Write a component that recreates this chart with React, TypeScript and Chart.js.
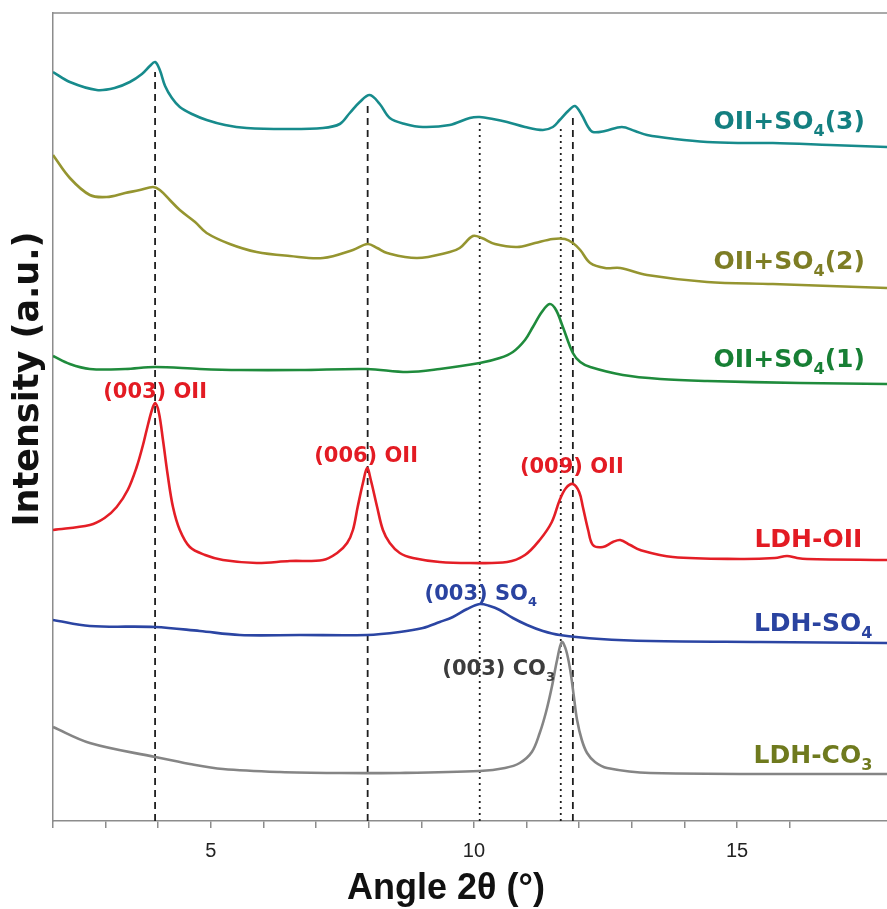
import React, { useEffect, useRef } from 'react';
import { Chart, registerables } from 'chart.js';
Chart.register(...registerables);

type P = [number, number];

// ---- axis ranges ----
const X_MIN = 2;
const X_MAX = 17.85;
const Y_MIN = 0;
const Y_MAX = 808;
const X_LABELLED_TICKS = [5, 10, 15];

// ---- series (2θ, intensity a.u., stacked offsets included) ----
const oiiSo4_3: P[] = [
  [2.0, 749], [2.32, 739], [2.83, 731], [3.17, 733], [3.46, 739], [3.69, 747], [3.84, 755], [3.94, 759],
  [4.03, 751], [4.13, 735], [4.26, 723], [4.41, 714], [4.64, 707], [4.92, 701], [5.27, 696], [5.68, 693],
  [6.41, 692], [7.13, 693], [7.45, 697], [7.64, 708], [7.83, 719], [8.02, 726], [8.21, 717], [8.4, 703],
  [8.69, 697], [9.03, 694], [9.54, 696], [9.92, 703], [10.11, 704], [10.36, 702], [10.63, 699], [10.97, 694],
  [11.31, 691], [11.5, 694], [11.63, 701], [11.79, 710], [11.92, 715], [12.05, 706], [12.17, 694], [12.26, 689],
  [12.49, 690], [12.81, 694], [13.06, 690], [13.29, 686], [13.82, 682], [14.43, 679], [15.06, 678], [15.68, 678],
  [16.77, 676], [17.85, 674],
];
const oiiSo4_2: P[] = [
  [2.0, 666], [2.32, 643], [2.7, 626], [3.02, 624], [3.37, 628], [3.65, 631], [3.9, 634], [4.03, 631],
  [4.22, 621], [4.41, 611], [4.7, 599], [4.92, 588], [5.36, 577], [5.87, 569], [6.5, 565], [7.13, 563],
  [7.7, 571], [7.98, 577], [8.16, 573], [8.35, 568], [8.92, 563], [9.54, 569], [9.73, 573], [9.98, 585],
  [10.15, 583], [10.4, 577], [10.82, 574], [11.16, 578], [11.5, 582], [11.73, 582], [11.88, 578], [12.02, 571],
  [12.21, 558], [12.49, 553], [12.78, 553], [13.29, 546], [14.43, 539], [15.68, 537], [17.85, 533],
];
const oiiSo4_1: P[] = [
  [2.0, 465], [2.32, 457], [2.7, 452], [3.37, 452], [3.94, 454], [4.79, 452], [5.55, 451], [6.69, 451],
  [7.97, 452], [8.73, 449], [9.35, 452], [10.11, 458], [10.49, 463], [10.74, 469], [10.97, 481], [11.12, 494],
  [11.29, 509], [11.44, 517], [11.56, 511], [11.69, 494], [11.88, 468], [12.02, 459], [12.21, 454], [12.83, 446],
  [13.54, 442], [14.43, 440], [16.2, 438], [17.85, 437],
];
const ldhOii: P[] = [
  [2.0, 291], [2.7, 296], [2.98, 303], [3.21, 314], [3.42, 331], [3.59, 354], [3.71, 376], [3.78, 391],
  [3.88, 411], [3.94, 418], [4.01, 409], [4.09, 381], [4.18, 346], [4.28, 314], [4.41, 291], [4.6, 274],
  [4.89, 266], [5.23, 261], [5.87, 258], [6.5, 260], [7.13, 261], [7.4, 268], [7.59, 278], [7.7, 291],
  [7.79, 314], [7.89, 338], [7.97, 353], [8.04, 341], [8.16, 314], [8.27, 291], [8.4, 278], [8.59, 268],
  [8.84, 263], [9.35, 259], [9.92, 258], [10.63, 259], [10.97, 266], [11.25, 281], [11.48, 299], [11.63, 321],
  [11.75, 333], [11.88, 337], [12.0, 329], [12.07, 314], [12.17, 291], [12.26, 276], [12.45, 274], [12.64, 279],
  [12.78, 281], [12.97, 276], [13.16, 271], [13.78, 264], [15.06, 262], [15.72, 263], [15.95, 265], [16.14, 263],
  [16.33, 262], [17.85, 261],
];
const ldhSo4: P[] = [
  [2.0, 201], [2.7, 195], [3.94, 194], [4.79, 190], [5.55, 186], [6.69, 186], [7.97, 186], [8.59, 189],
  [9.03, 193], [9.35, 199], [9.6, 204], [9.87, 212], [10.11, 217], [10.3, 215], [10.49, 211], [10.74, 203],
  [11.01, 196], [11.31, 190], [11.63, 186], [12.4, 182], [13.35, 180], [15.44, 179], [17.85, 178],
];
const ldhCo3: P[] = [
  [2.0, 94], [2.7, 78], [3.94, 64], [4.6, 57], [5.23, 52], [6.31, 49], [7.45, 48], [8.59, 48],
  [10.11, 50], [10.59, 53], [10.87, 58], [11.1, 69], [11.25, 88], [11.37, 109], [11.48, 134], [11.58, 161],
  [11.67, 179], [11.75, 171], [11.83, 151], [11.9, 124], [11.96, 101], [12.05, 81], [12.15, 68], [12.3, 59],
  [12.53, 53], [13.35, 48], [17.85, 47],
];

// ---- reference lines (2θ position, upper end in a.u.) ----
const dashedRefX = [3.94, 7.98, 11.88];
const dashedRefTop = [749, 716, 703];
const dottedRefX = [10.11, 11.65];
const dottedRefTop = [699, 693];

// ---- text: [main, subscript, after] ----
const peakLabelText: [string, string, string][] = [
  ['(003) OII', '', ''],
  ['(006) OII', '', ''],
  ['(009) OII', '', ''],
  ['(003) SO', '4', ''],
  ['(003) CO', '3', ''],
];
const peakLabelX = [3.94, 7.95, 11.86, 10.13, 10.47];
const peakLabelY = [423, 359, 348, 221, 146];

const seriesLabelText: [string, string, string][] = [
  ['OII+SO', '4', '(3)'],
  ['OII+SO', '4', '(2)'],
  ['OII+SO', '4', '(1)'],
  ['LDH-OII', '', ''],
  ['LDH-SO', '4', ''],
  ['LDH-CO', '3', ''],
];
const seriesLabelX = [17.43, 17.43, 17.43, 17.38, 17.57, 17.57];
const seriesLabelY = [692, 552, 454, 274, 190, 58];

const X_TITLE = 'Angle 2θ (°)';
const Y_TITLE = 'Intensity (a.u.)';

// ---- styles ----
const lineColors = ['#178b8c', '#959530', '#1f8b3c', '#e41e26', '#2b45a3', '#858585'];
const peakLabelColors = ['#e31b23', '#e31b23', '#e31b23', '#2a43a0', '#3c3c3c'];
const seriesLabelColors = ['#137f80', '#7d7d24', '#177f34', '#e31b23', '#2a43a0', '#6f7a1e'];
const FRAME = '#8c8c8c';

function drawRich(
  ctx: CanvasRenderingContext2D,
  parts: [string, string, string],
  px: number,
  py: number,
  align: 'center' | 'right',
  size: number,
  color: string
) {
  const main = `bold ${size}px "DejaVu Sans"`;
  const subSize = Math.round(size * 0.62);
  const sub = `bold ${subSize}px "DejaVu Sans"`;
  const segs: { t: string; s: boolean }[] = [
    { t: parts[0], s: false },
    { t: parts[1], s: true },
    { t: parts[2], s: false },
  ].filter((s) => s.t.length > 0);
  let w = 0;
  for (const sg of segs) {
    ctx.font = sg.s ? sub : main;
    w += ctx.measureText(sg.t).width;
  }
  let cx = align === 'center' ? px - w / 2 : px - w;
  ctx.fillStyle = color;
  ctx.textAlign = 'left';
  ctx.textBaseline = 'alphabetic';
  for (const sg of segs) {
    ctx.font = sg.s ? sub : main;
    ctx.fillText(sg.t, cx, sg.s ? py + size * 0.28 : py);
    cx += ctx.measureText(sg.t).width;
  }
}

const overlayPlugin = {
  id: 'overlay',
  afterDatasetsDraw(chart: any) {
    const { ctx, chartArea, scales } = chart;
    const xs = scales.x;
    const ys = scales.y;
    ctx.save();
    // top frame
    ctx.strokeStyle = FRAME;
    ctx.lineWidth = 1.5;
    ctx.beginPath();
    ctx.moveTo(chartArea.left, chartArea.top);
    ctx.lineTo(chartArea.right, chartArea.top);
    ctx.stroke();

    peakLabelText.forEach((t, i) => {
      drawRich(ctx, t, xs.getPixelForValue(peakLabelX[i]), ys.getPixelForValue(peakLabelY[i]), 'center', 21, peakLabelColors[i]);
    });
    seriesLabelText.forEach((t, i) => {
      drawRich(ctx, t, xs.getPixelForValue(seriesLabelX[i]), ys.getPixelForValue(seriesLabelY[i]), 'right', 25, seriesLabelColors[i]);
    });

    // axis titles
    ctx.fillStyle = '#111';
    ctx.textAlign = 'center';
    ctx.textBaseline = 'alphabetic';
    ctx.font = 'bold 36px "Liberation Sans", Arial, sans-serif';
    ctx.fillText(X_TITLE, 446, chartArea.bottom + 78);

    ctx.translate(38, 379);
    ctx.rotate(-Math.PI / 2);
    ctx.font = 'bold 35px "DejaVu Sans", Verdana, sans-serif';
    ctx.fillText(Y_TITLE, 0, 0);
    ctx.restore();
  },
};

export default function App() {
  const ref = useRef<HTMLCanvasElement | null>(null);

  useEffect(() => {
    if (!ref.current) return;
    const series = [oiiSo4_3, oiiSo4_2, oiiSo4_1, ldhOii, ldhSo4, ldhCo3];
    const curveSets = series.map((s, i) => ({
      data: s.map(([x, y]) => ({ x, y })),
      borderColor: lineColors[i],
      borderWidth: 2.6,
      pointRadius: 0,
      tension: 0.35,
      fill: false,
    }));
    const dashedSets = dashedRefX.map((x, i) => ({
      data: [{ x, y: Y_MIN }, { x, y: dashedRefTop[i] }],
      borderColor: '#1e1e1e',
      borderWidth: 1.8,
      borderDash: [7, 5],
      pointRadius: 0,
      fill: false,
    }));
    const dottedSets = dottedRefX.map((x, i) => ({
      data: [{ x, y: Y_MIN }, { x, y: dottedRefTop[i] }],
      borderColor: '#1e1e1e',
      borderWidth: 1.8,
      borderDash: [2, 4],
      pointRadius: 0,
      fill: false,
    }));

    const chart = new Chart(ref.current, {
      type: 'line',
      data: { datasets: [...curveSets, ...dashedSets, ...dottedSets] as any },
      options: {
        animation: false,
        responsive: true,
        maintainAspectRatio: false,
        layout: { padding: { top: 13, left: 0, right: 0, bottom: 0 } },
        plugins: { legend: { display: false }, tooltip: { enabled: false } },
        events: [],
        scales: {
          x: {
            type: 'linear',
            min: X_MIN,
            max: X_MAX,
            afterFit: (s: any) => {
              s.height = 88;
            },
            afterBuildTicks: (s: any) => {
              s.ticks = s.ticks.filter((t: any) => Number.isInteger(t.value));
            },
            border: { display: true, color: FRAME, width: 1.5 },
            grid: { drawOnChartArea: false, drawTicks: true, tickLength: 7, color: FRAME, lineWidth: 1.5 },
            ticks: {
              stepSize: 1,
              autoSkip: false,
              maxRotation: 0,
              padding: 11,
              color: '#222',
              font: { family: '"Liberation Sans", Arial, sans-serif', size: 20 },
              callback: (v: any) => (X_LABELLED_TICKS.includes(Number(v)) ? String(v) : ''),
            },
          },
          y: {
            type: 'linear',
            min: Y_MIN,
            max: Y_MAX,
            afterFit: (s: any) => {
              s.width = 53;
            },
            border: { display: true, color: FRAME, width: 1.5 },
            grid: { display: false },
            ticks: { display: false },
          },
        },
      },
      plugins: [overlayPlugin],
    });
    return () => chart.destroy();
  }, []);

  return (
    <div style={{ position: 'absolute', left: 0, top: 0, width: 887, height: 909, background: '#fff' }}>
      <canvas ref={ref} />
    </div>
  );
}
